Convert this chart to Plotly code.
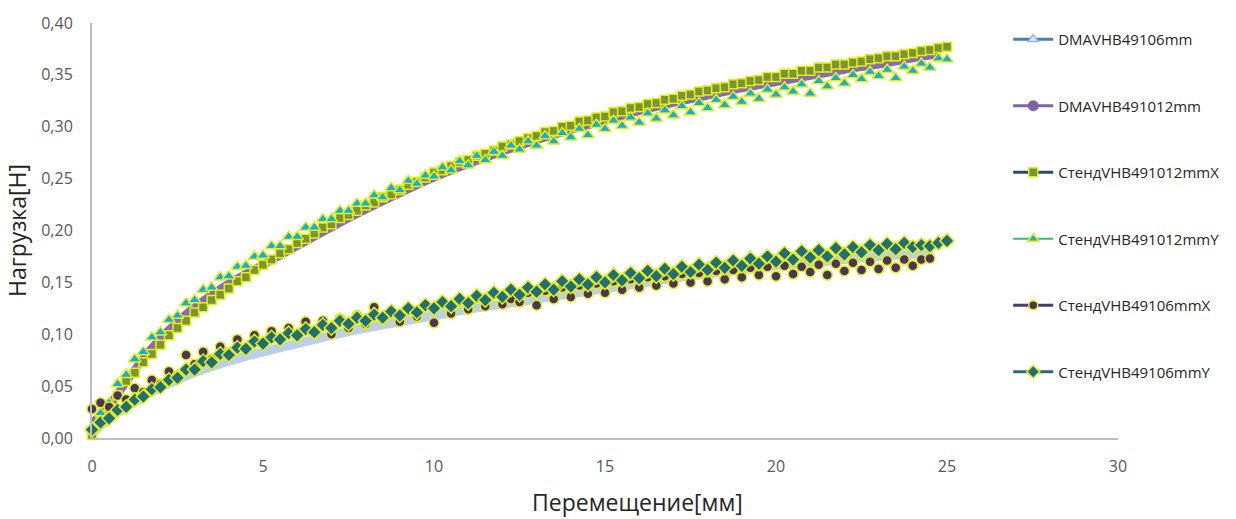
import plotly.graph_objects as go

# ---------------- data ----------------
# displacement samples of the test-stand series, mm
x_stend = [
    0, 0.25, 0.5, 0.75, 1, 1.25, 1.5, 1.75, 2, 2.25,
    2.5, 2.75, 3, 3.25, 3.5, 3.75, 4, 4.25, 4.5, 4.75,
    5, 5.25, 5.5, 5.75, 6, 6.25, 6.5, 6.75, 7, 7.25,
    7.5, 7.75, 8, 8.25, 8.5, 8.75, 9, 9.25, 9.5, 9.75,
    10, 10.25, 10.5, 10.75, 11, 11.25, 11.5, 11.75, 12, 12.25,
    12.5, 12.75, 13, 13.25, 13.5, 13.75, 14, 14.25, 14.5, 14.75,
    15, 15.25, 15.5, 15.75, 16, 16.25, 16.5, 16.75, 17, 17.25,
    17.5, 17.75, 18, 18.25, 18.5, 18.75, 19, 19.25, 19.5, 19.75,
    20, 20.25, 20.5, 20.75, 21, 21.25, 21.5, 21.75, 22, 22.25,
    22.5, 22.75, 23, 23.25, 23.5, 23.75, 24, 24.25, 24.5, 24.75,
    25,
]

y_stend_491012_x = [
    0.003, 0.016, 0.028, 0.041, 0.055, 0.063, 0.073, 0.081, 0.090, 0.099,
    0.106, 0.113, 0.121, 0.126, 0.133, 0.138, 0.144, 0.151, 0.155, 0.162,
    0.167, 0.172, 0.178, 0.182, 0.188, 0.192, 0.197, 0.203, 0.206, 0.212,
    0.215, 0.219, 0.224, 0.227, 0.232, 0.235, 0.239, 0.244, 0.247, 0.251,
    0.256, 0.258, 0.262, 0.266, 0.268, 0.272, 0.274, 0.277, 0.281, 0.283,
    0.286, 0.289, 0.291, 0.295, 0.296, 0.300, 0.301, 0.305, 0.306, 0.309,
    0.310, 0.314, 0.315, 0.318, 0.319, 0.322, 0.323, 0.326, 0.327, 0.330,
    0.331, 0.334, 0.335, 0.337, 0.338, 0.341, 0.342, 0.344, 0.345, 0.348,
    0.348, 0.351, 0.351, 0.354, 0.354, 0.357, 0.357, 0.360, 0.360, 0.362,
    0.363, 0.365, 0.366, 0.368, 0.368, 0.370, 0.371, 0.373, 0.374, 0.376,
    0.377,
]

y_stend_491012_y = [
    0.010, 0.024, 0.034, 0.052, 0.061, 0.076, 0.083, 0.097, 0.102, 0.114,
    0.118, 0.130, 0.133, 0.143, 0.145, 0.155, 0.156, 0.165, 0.166, 0.175,
    0.176, 0.185, 0.185, 0.194, 0.194, 0.203, 0.203, 0.211, 0.211, 0.219,
    0.219, 0.226, 0.226, 0.234, 0.232, 0.241, 0.239, 0.248, 0.245, 0.253,
    0.252, 0.261, 0.258, 0.267, 0.263, 0.272, 0.268, 0.276, 0.272, 0.282,
    0.278, 0.286, 0.282, 0.291, 0.286, 0.294, 0.290, 0.298, 0.292, 0.302,
    0.298, 0.306, 0.301, 0.309, 0.304, 0.313, 0.308, 0.316, 0.311, 0.320,
    0.314, 0.323, 0.318, 0.326, 0.321, 0.329, 0.324, 0.332, 0.327, 0.336,
    0.331, 0.338, 0.334, 0.341, 0.332, 0.344, 0.339, 0.347, 0.342, 0.350,
    0.346, 0.353, 0.349, 0.355, 0.347, 0.358, 0.354, 0.361, 0.357, 0.366,
    0.365,
]

y_stend_49106_x = [
    0.028, 0.034, 0.030, 0.041, 0.037, 0.048, 0.044, 0.056, 0.052, 0.064,
    0.060, 0.080, 0.071, 0.083, 0.076, 0.088, 0.082, 0.095, 0.087, 0.099,
    0.092, 0.103, 0.096, 0.106, 0.098, 0.112, 0.101, 0.113, 0.100, 0.115,
    0.106, 0.118, 0.110, 0.126, 0.114, 0.121, 0.112, 0.124, 0.117, 0.127,
    0.111, 0.130, 0.120, 0.132, 0.124, 0.135, 0.127, 0.138, 0.129, 0.134,
    0.131, 0.140, 0.128, 0.142, 0.134, 0.145, 0.136, 0.147, 0.139, 0.149,
    0.140, 0.151, 0.143, 0.153, 0.145, 0.155, 0.147, 0.156, 0.149, 0.158,
    0.150, 0.159, 0.151, 0.161, 0.153, 0.162, 0.155, 0.164, 0.157, 0.165,
    0.156, 0.166, 0.158, 0.165, 0.160, 0.167, 0.157, 0.168, 0.161, 0.169,
    0.162, 0.170, 0.163, 0.171, 0.164, 0.172, 0.166, 0.172, 0.173,
]

y_stend_49106_y = [
    0.008, 0.015, 0.019, 0.027, 0.030, 0.037, 0.040, 0.047, 0.049, 0.056,
    0.058, 0.066, 0.066, 0.074, 0.073, 0.081, 0.080, 0.087, 0.086, 0.093,
    0.091, 0.097, 0.095, 0.101, 0.099, 0.105, 0.102, 0.109, 0.106, 0.113,
    0.110, 0.116, 0.113, 0.119, 0.116, 0.122, 0.118, 0.125, 0.121, 0.128,
    0.125, 0.131, 0.127, 0.134, 0.130, 0.137, 0.133, 0.140, 0.136, 0.143,
    0.138, 0.145, 0.141, 0.148, 0.143, 0.151, 0.146, 0.153, 0.148, 0.155,
    0.150, 0.157, 0.152, 0.159, 0.154, 0.161, 0.156, 0.163, 0.158, 0.165,
    0.160, 0.167, 0.162, 0.169, 0.164, 0.171, 0.166, 0.173, 0.168, 0.175,
    0.170, 0.178, 0.172, 0.180, 0.174, 0.181, 0.175, 0.183, 0.177, 0.184,
    0.179, 0.186, 0.181, 0.187, 0.182, 0.188, 0.184, 0.186, 0.185, 0.188,
    0.190,
]

# DMA curves (dense, drawn as solid bands)
x_dma_49106 = [0, 0.25, 0.5, 1, 1.5, 2, 2.5, 3, 4, 5, 6, 7, 8, 9, 10, 11, 12,
               13, 14, 15, 16, 17, 18, 19, 20, 21, 22, 23, 24, 24.6]
y_dma_49106 = [0.004, 0.012, 0.019, 0.030, 0.040, 0.049, 0.056, 0.063, 0.074,
               0.083, 0.091, 0.099, 0.106, 0.112, 0.118, 0.124, 0.129, 0.134,
               0.139, 0.144, 0.149, 0.154, 0.158, 0.162, 0.166, 0.169, 0.172,
               0.175, 0.177, 0.178]

x_dma_491012 = [0, 0.25, 0.5, 1, 1.5, 2, 2.5, 3, 4, 5, 6, 7, 8, 9, 10, 11, 12,
                13, 14, 15, 16, 17, 18, 19, 20, 21, 22, 23, 24, 24.8]
y_dma_491012 = [0.015, 0.022, 0.031, 0.054, 0.077, 0.096, 0.112, 0.126, 0.149,
                0.167, 0.185, 0.203, 0.220, 0.236, 0.251, 0.264, 0.276, 0.287,
                0.297, 0.306, 0.315, 0.323, 0.330, 0.337, 0.343, 0.349, 0.355,
                0.360, 0.366, 0.370]

series_names = [
    "DMAVHB49106mm",
    "DMAVHB491012mm",
    "СтендVHB491012mmX",
    "СтендVHB491012mmY",
    "СтендVHB49106mmX",
    "СтендVHB49106mmY",
]

x_ticks = [0, 5, 10, 15, 20, 25, 30]
y_ticks = [0, 0.05, 0.10, 0.15, 0.20, 0.25, 0.30, 0.35, 0.40]
x_title = "Перемещение[мм]"
y_title = "Нагрузка[Н]"

# ---------------- styles ----------------
FONT = "Open Sans, Noto Sans, sans-serif"
YEL = "#e4ef14"

fig = go.Figure()

# plotted data (no legend)
fig.add_trace(go.Scatter(x=x_dma_49106, y=y_dma_49106, mode="lines",
                         line=dict(color="#bccfea", width=9, shape="spline"),
                         showlegend=False, cliponaxis=False))
fig.add_trace(go.Scatter(x=x_dma_491012, y=y_dma_491012, mode="lines",
                         line=dict(color="#8a6bb0", width=8, shape="spline"),
                         showlegend=False, cliponaxis=False))
fig.add_trace(go.Scatter(x=x_stend, y=y_stend_491012_x, mode="markers",
                         marker=dict(symbol="square", size=9, color="#7b9436",
                                     line=dict(color=YEL, width=1.5)),
                         showlegend=False, cliponaxis=False))
fig.add_trace(go.Scatter(x=x_stend, y=y_stend_491012_y, mode="markers",
                         marker=dict(symbol="triangle-up", size=11, color="#14ade3",
                                     line=dict(color=YEL, width=1.5)),
                         showlegend=False, cliponaxis=False))
fig.add_trace(go.Scatter(x=x_stend[:len(y_stend_49106_x)], y=y_stend_49106_x,
                         mode="markers",
                         marker=dict(symbol="circle", size=10, color="#48345f",
                                     line=dict(color=YEL, width=1.5)),
                         showlegend=False, cliponaxis=False))
fig.add_trace(go.Scatter(x=x_stend, y=y_stend_49106_y, mode="markers",
                         marker=dict(symbol="diamond", size=11, color="#216e7b",
                                     line=dict(color=YEL, width=1.5)),
                         showlegend=False, cliponaxis=False))

# legend entries (line + marker as in the original legend)
legend_styles = [
    dict(line=dict(color="#4a7ebb", width=3),
         marker=dict(symbol="triangle-up", size=9, color="#dfe8f5",
                     line=dict(color="#9ab5df", width=1.5))),
    dict(line=dict(color="#8064a2", width=3),
         marker=dict(symbol="circle", size=10, color="#8064a2",
                     line=dict(color="#8064a2", width=1))),
    dict(line=dict(color="#264a78", width=3),
         marker=dict(symbol="square", size=9, color="#76923c",
                     line=dict(color=YEL, width=1.5))),
    dict(line=dict(color="#2fbf71", width=2),
         marker=dict(symbol="triangle-up", size=10, color="#14ade3",
                     line=dict(color=YEL, width=1.5))),
    dict(line=dict(color="#4b3b6c", width=3),
         marker=dict(symbol="circle", size=9, color="#48345f",
                     line=dict(color=YEL, width=1.5))),
    dict(line=dict(color="#2c6a7a", width=3),
         marker=dict(symbol="diamond", size=10, color="#216e7b",
                     line=dict(color=YEL, width=1.5))),
]
for i, (name, st) in enumerate(zip(series_names, legend_styles)):
    fig.add_trace(go.Scatter(x=[None], y=[None], mode="lines+markers", name=name,
                             legendgroup=f"g{i}", line=st["line"],
                             marker=st["marker"], showlegend=True))

axis_common = dict(
    showgrid=False, zeroline=False, showline=True,
    linecolor="#bfbfbf", linewidth=2,
    ticks="", tickfont=dict(family=FONT, size=16, color="#595959"),
)

fig.update_layout(
    width=1236, height=519,
    margin=dict(l=92, r=118, t=17, b=81),
    paper_bgcolor="white", plot_bgcolor="white",
    separators=", ",
    font=dict(family=FONT, color="#404040"),
    xaxis=dict(range=[0, 30], tickvals=x_ticks, ticklabelstandoff=13,
               **axis_common),
    yaxis=dict(range=[0, 0.40], tickvals=y_ticks, tickformat=".2f",
               ticklabelstandoff=14,
               title=dict(text=y_title, font=dict(family=FONT, size=23, color="#262626"),
                          standoff=8),
               **axis_common),
    legend=dict(x=0.893, xanchor="left", y=1.0, yanchor="top",
                traceorder="grouped", tracegroupgap=44,
                font=dict(family=FONT, size=15, color="#262626"),
                bgcolor="rgba(0,0,0,0)", itemwidth=40),
    annotations=[dict(text=x_title, xref="paper", yref="paper",
                      x=0.532, y=-0.154, xanchor="center", yanchor="middle",
                      showarrow=False,
                      font=dict(family=FONT, size=23, color="#262626"))],
)

fig.write_html("out.html")
